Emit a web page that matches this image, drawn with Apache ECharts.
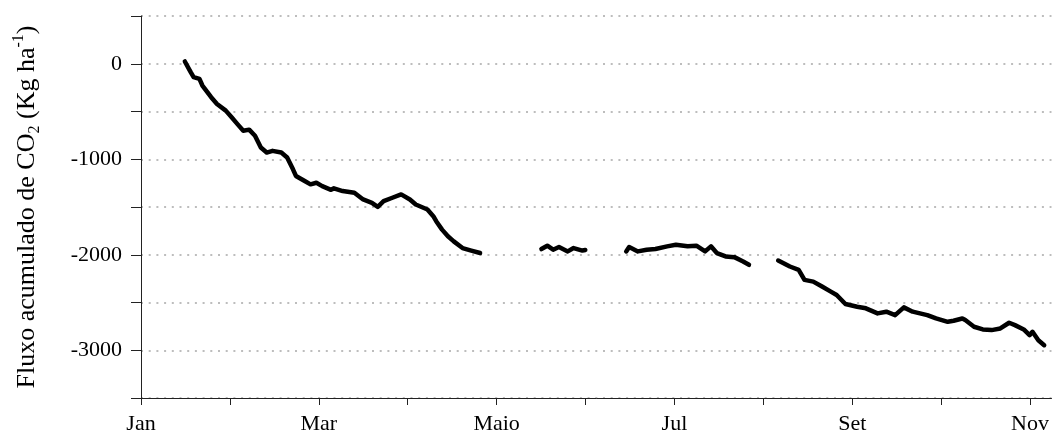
<!DOCTYPE html>
<html>
<head>
<meta charset="utf-8">
<script src="https://cdn.jsdelivr.net/npm/echarts@6/dist/echarts.min.js"></script>
<style>
  html, body { margin: 0; padding: 0; background: #fff; }
  #chart { width: 1052px; height: 438px; }
</style>
</head>
<body>
<div id="chart"></div>
<script>
// dia do ano (0 = 1 jan) e fluxo acumulado de CO2, um par de listas por trecho sem falha
var seg1Days = [15, 17, 18, 20, 21, 24, 26, 29, 31, 33, 35, 37, 39, 41, 43, 45, 48, 50, 52, 53, 56, 58, 60, 62, 65, 66, 69, 73, 76, 79, 81, 83, 86, 89, 92, 94, 98, 100, 101, 103, 105, 107, 110, 113, 116]
var seg1Flux = [24, -88, -140, -158, -228, -350, -421, -491, -561, -632, -702, -690, -754, -877, -930, -912, -930, -982, -1105, -1175, -1228, -1263, -1246, -1281, -1320, -1305, -1333, -1351, -1421, -1456, -1498, -1439, -1403, -1368, -1421, -1474, -1526, -1596, -1649, -1737, -1807, -1860, -1930, -1956, -1982]

var seg2Days = [137, 139, 141, 143, 146, 148, 151, 152]
var seg2Flux = [-1940, -1905, -1947, -1919, -1965, -1930, -1956, -1950]

var seg3Days = [166, 167, 170, 173, 176, 180, 183, 187, 190, 193, 195, 197, 200, 203, 206, 208]
var seg3Flux = [-1965, -1919, -1965, -1947, -1940, -1912, -1895, -1912, -1905, -1965, -1912, -1982, -2018, -2025, -2070, -2105]

var seg4Days = [218, 222, 225, 227, 230, 233, 236, 238, 241, 245, 248, 252, 255, 258, 261, 264, 269, 272, 276, 278, 281, 282, 285, 288, 291, 294, 297, 299, 302, 304, 305, 307, 309]
var seg4Flux = [-2060, -2123, -2158, -2263, -2281, -2333, -2386, -2421, -2516, -2544, -2561, -2614, -2596, -2632, -2551, -2596, -2632, -2667, -2702, -2691, -2667, -2684, -2754, -2782, -2789, -2772, -2712, -2737, -2782, -2842, -2807, -2895, -2947]

var monthNames = ['Jan', 'Fev', 'Mar', 'Abr', 'Maio', 'Jun', 'Jul', 'Ago', 'Set', 'Out', 'Nov']
var yTicks = [-3500, -3000, -2500, -2000, -1500, -1000, -500, 0, 500]

var monthLen = 365 / 12
var monthTicks = monthNames.map(function (m, i) { return i * monthLen })
var labelTicks = monthTicks.filter(function (v, i) { return i % 2 === 0 })

var font = 'Liberation Serif'

function pairs(days, flux) {
  return days.map(function (d, i) { return [d, flux[i]] })
}

function segSeries(days, flux) {
  return {
    type: 'line',
    data: pairs(days, flux),
    showSymbol: false,
    smooth: false,
    lineStyle: { color: '#000', width: 4.5, join: 'round', cap: 'round' },
    animation: false
  }
}

var chart = echarts.init(document.getElementById('chart'))
chart.setOption({
  animation: false,
  grid: { left: 141, right: 0, top: 16, bottom: 40, containLabel: false },
  xAxis: {
    type: 'value',
    min: 0,
    max: 311.5,
    axisLine: { show: true, onZero: false, lineStyle: { color: '#222', width: 1 } },
    axisTick: { show: true, length: 7, customValues: monthTicks, lineStyle: { color: '#222' } },
    axisLabel: {
      customValues: labelTicks,
      margin: 15,
      color: '#000',
      fontFamily: font,
      fontSize: 22,
      formatter: function (v) { return monthNames[Math.round(v / monthLen)] }
    },
    splitLine: { show: false }
  },
  yAxis: {
    type: 'value',
    min: yTicks[0],
    max: yTicks[yTicks.length - 1],
    interval: 500,
    axisLine: { show: true, onZero: false, lineStyle: { color: '#222', width: 1 } },
    axisTick: { show: true, length: 10, lineStyle: { color: '#222' } },
    axisLabel: {
      margin: 19,
      color: '#000',
      fontFamily: font,
      fontSize: 22,
      formatter: function (v) { return v % 1000 === 0 && v !== -3500 ? String(v) : '' }
    },
    splitLine: { show: true, lineStyle: { color: '#bdbdbd', width: 2, type: [2, 5.7] } },
    name: '{a|Fluxo acumulado de CO}{sub|2}{a| (Kg ha}{sup|-1}{a|)}',
    nameLocation: 'middle',
    nameRotate: 90,
    nameGap: 98,
    nameTextStyle: {
      rich: {
        a: { fontFamily: font, fontSize: 26, color: '#000', lineHeight: 32 },
        sub: { fontFamily: font, fontSize: 16, color: '#000', verticalAlign: 'bottom', lineHeight: 16 },
        sup: { fontFamily: font, fontSize: 16, color: '#000', verticalAlign: 'top', lineHeight: 16 }
      }
    }
  },
  series: [
    segSeries(seg1Days, seg1Flux),
    segSeries(seg2Days, seg2Flux),
    segSeries(seg3Days, seg3Flux),
    segSeries(seg4Days, seg4Flux)
  ]
})
</script>
</body>
</html>
